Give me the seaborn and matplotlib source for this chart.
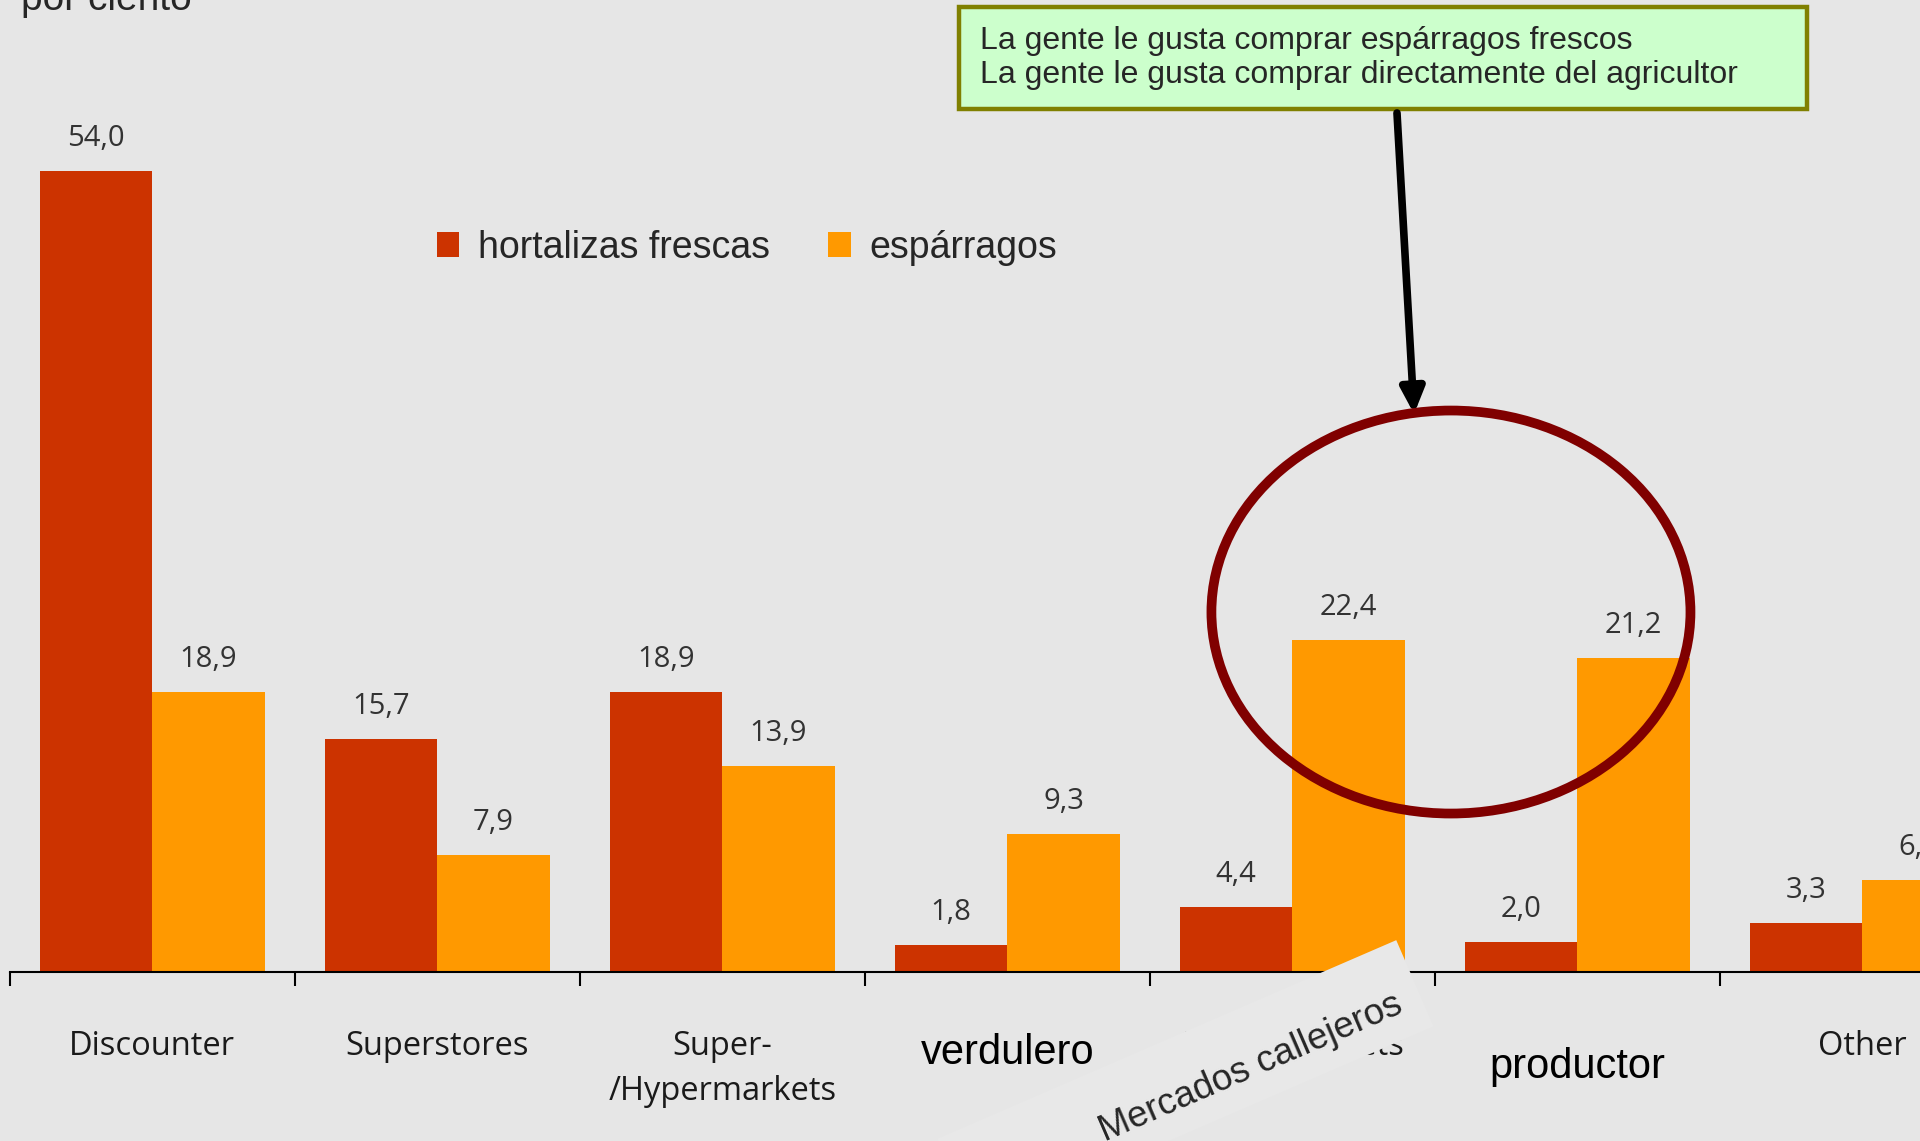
import numpy as np
import pandas as pd
import matplotlib
matplotlib.use('Agg')
import matplotlib.pyplot as plt
import seaborn as sns
from matplotlib.patches import Rectangle, Ellipse, FancyArrowPatch
from matplotlib.transforms import IdentityTransform

# ---------------------------------------------------------------
# data
# ---------------------------------------------------------------
canales = ['Discounter', 'Superstores', 'Super-\n/Hypermarkets', 'verdulero',
           'Street markets', 'productor', 'Other']
hortalizas = [54.0, 15.7, 18.9, 1.8, 4.4, 2.0, 3.3]
esparragos = [18.9, 7.9, 13.9, 9.3, 22.4, 21.2, 6.2]
series = ['hortalizas frescas', 'espárragos']
colores = ['#cc3300', '#ff9900']

titulo_eje = 'por ciento'
nota = ('La gente le gusta comprar espárragos frescos\n'
        'La gente le gusta comprar directamente del agricultor')
etiqueta_mercados = 'Mercados callejeros'

df = pd.DataFrame({
    'canal': canales * 2,
    'serie': [series[0]] * len(canales) + [series[1]] * len(canales),
    'valor': hortalizas + esparragos,
})

sns.set_style('white')
plt.rcParams['font.family'] = ['Open Sans', 'DejaVu Sans']

fondo = '#e6e6e6'
fig = plt.figure(figsize=(19.2, 11.41), dpi=100, facecolor=fondo)
ax = fig.add_axes([0.0051, 0.1481, 1.039, 0.8519])
ax.set_facecolor(fondo)

sns.barplot(data=df, x='canal', y='valor', hue='serie', palette=colores,
            width=0.79, saturation=1, linewidth=0, ax=ax)
ax.set_ylim(0, 65.56)
ax.set_xlim(-0.5, 6.5)
ax.set_xlabel('')
ax.set_ylabel('')
ax.set_yticks([])

for s in ['left', 'right', 'top']:
    ax.spines[s].set_visible(False)
ax.spines['bottom'].set_color('black')
ax.spines['bottom'].set_linewidth(1.5)

# value labels with decimal comma
for cont, vals in zip(ax.containers, [hortalizas, esparragos]):
    ax.bar_label(cont, labels=[f'{v:.1f}'.replace('.', ',') for v in vals],
                 padding=13, fontsize=21, color='#333333')

# category labels + separator ticks
ax.set_xticks(np.arange(-0.5, 7, 1), minor=True)
ax.tick_params(axis='x', which='minor', length=10, width=1.5, color='black',
               direction='out', bottom=True)
ax.tick_params(axis='x', which='major', length=0, pad=42, labelsize=23.5,
               labelcolor='#1a1a1a')
ticks = ax.xaxis.get_major_ticks()
labels = ax.get_xticklabels()
labels[2].set_linespacing(1.45)
for i in (3, 5):
    labels[i].set_fontsize(30)
    labels[i].set_family('Liberation Sans')
    labels[i].set_color('black')
ticks[3].set_pad(44)
ticks[5].set_pad(54)

# legend
handles, labs = ax.get_legend_handles_labels()
ax.legend(handles, labs, ncol=2, frameon=False, loc='center left',
          bbox_to_anchor=(0.2276, 0.7827), bbox_transform=fig.transFigure,
          borderaxespad=0, borderpad=0, handlelength=0.6, handleheight=0.65,
          handletextpad=0.5, columnspacing=1.55,
          prop={'family': 'Liberation Sans', 'size': 27})

fig.text(0.011, 1 - 10 / 1141, titulo_eje, va='baseline', ha='left',
         fontsize=28, family='Liberation Sans')

# callout box, arrow and circle
fig.add_artist(Rectangle((0.4995, 0.9045), 0.4417, 0.0894, transform=fig.transFigure,
                         facecolor='#ccffcc', edgecolor='#808000', linewidth=3.2))
fig.text(980 / 1920, 1 - 58 / 1141, nota, va='center', ha='left', fontsize=23,
         family='Liberation Sans', linespacing=1.2)
fig.add_artist(FancyArrowPatch((0.7276, 0.9010), (0.7365, 0.6372), transform=fig.transFigure,
                               arrowstyle='-|>,head_length=0.75,head_width=0.35',
                               mutation_scale=20, linewidth=5.5, color='black',
                               shrinkA=0, shrinkB=0))
fig.add_artist(Ellipse((0.7557, 0.4636), 0.2495, 0.3532, transform=fig.transFigure,
                       fill=False, edgecolor='#800000', linewidth=7))

# pasted-over label for the street markets bar
fig.add_artist(Rectangle((974.7, -84), 500, 94, angle=23.4, transform=IdentityTransform(),
                         facecolor='#e8e8e8', edgecolor='none', zorder=2))
fig.text(1251 / 1920, 73 / 1141, etiqueta_mercados, rotation=23.4, ha='center',
         va='center', rotation_mode='anchor', fontsize=26.5,
         family='Liberation Sans', zorder=3)

fig.savefig('out.png', dpi=100, facecolor=fondo)
